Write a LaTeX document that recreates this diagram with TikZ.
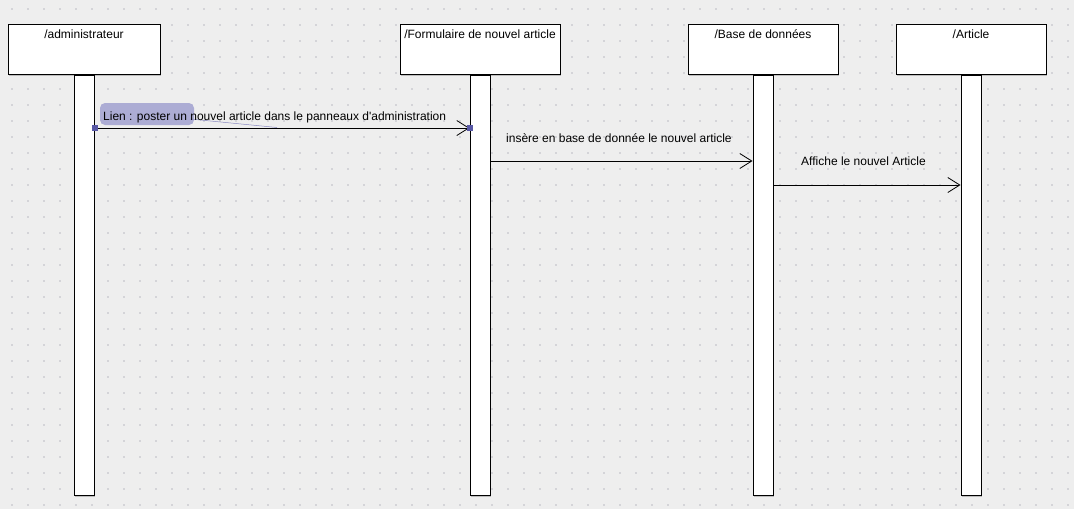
\documentclass[tikz,border=0pt]{standalone}
\usepackage{fontspec}
\setmainfont{Liberation Sans}
\usepackage{tikz}
\usetikzlibrary{arrows.meta,shadows,calc}
\definecolor{bggray}{RGB}{238,238,238}
\definecolor{dotgray}{RGB}{212,212,216}
\definecolor{selblue}{RGB}{172,172,212}
\definecolor{handleblue}{RGB}{88,88,165}
\tikzstyle{head}=[draw, fill=white, line width=1pt, inner sep=0pt, minimum height=50pt,
  text height=14pt, text depth=36pt, font=\fontsize{12}{14}\selectfont,
  drop shadow={shadow xshift=1.2pt, shadow yshift=-1.2pt, fill=gray, opacity=.45}]
\tikzstyle{bar}=[draw, fill=white, line width=1pt, inner sep=0pt, minimum width=20pt,
  minimum height=420pt,
  drop shadow={shadow xshift=1.2pt, shadow yshift=-1.2pt, fill=gray, opacity=.45}]
\tikzstyle{msg}=[line width=0.8pt, -{Straight Barb[length=12pt, width=15pt, line width=0.8pt]}]
\tikzstyle{msglabel}=[inner sep=0pt, anchor=base west, font=\fontsize{12}{14}\selectfont]
\tikzstyle{handle}=[fill=handleblue, inner sep=0pt, minimum size=6pt]

\begin{document}
\begin{tikzpicture}[x=1pt, y=-1pt]
    \useasboundingbox (0,0) rectangle (1074,509);
    % background with the dot grid
    \fill[bggray] (0,0) rectangle (1074,509);
    \foreach \i in {0,...,66}{
      \foreach \j in {0,...,31}{
        \fill[dotgray] (12+16*\i-0.8, 9+16*\j-0.8) rectangle +(1.6,1.6);
      }
    }

    % lifelines: header box and activation bar
    \foreach \n/\t/\x/\w in {admin/{/administrateur}/84/152, form/{/Formulaire de nouvel article}/480/160,
                             base/{/Base de données}/763/150, art/{/Article}/971/150}{
      \node[head, minimum width=\w pt, anchor=north] (\n) at (\x,24) {\t};
      \node[bar, anchor=north] (\n bar) at (\n.south) {};
    }

    % selection highlight of the first label
    \fill[selblue, rounded corners=5pt] (100,103) rectangle (194,125);
    \coordinate (sel) at (190,119);

    % messages
    \draw[msg] (adminbar.north east) ++(0,53) coordinate (m1a) -- (formbar.north west |- m1a) coordinate (m1b);
    \draw[msg] (formbar.north east) ++(0,86) coordinate (m2a) -- (basebar.north west |- m2a) coordinate (m2b);
    \draw[msg] (basebar.north east) ++(0,110) coordinate (m3a) -- (artbar.north west |- m3a) coordinate (m3b);
    \draw[handleblue!70, line width=0.5pt] (sel) -- (277,127.5);

    \node[msglabel] (lab1) at (103,120) {Lien : poster un nouvel article dans le panneaux d\textquotesingle administration};
    \node[msglabel] (lab2) at (506,142) {insère en base de donnée le nouvel article};
    \node[msglabel] (lab3) at (801,165.5) {Affiche le nouvel Article};

    % handles of the selected message
    \node[handle] (h1) at (m1a) {};
    \node[handle] (h2) at (m1b) {};
\end{tikzpicture}
\end{document}
